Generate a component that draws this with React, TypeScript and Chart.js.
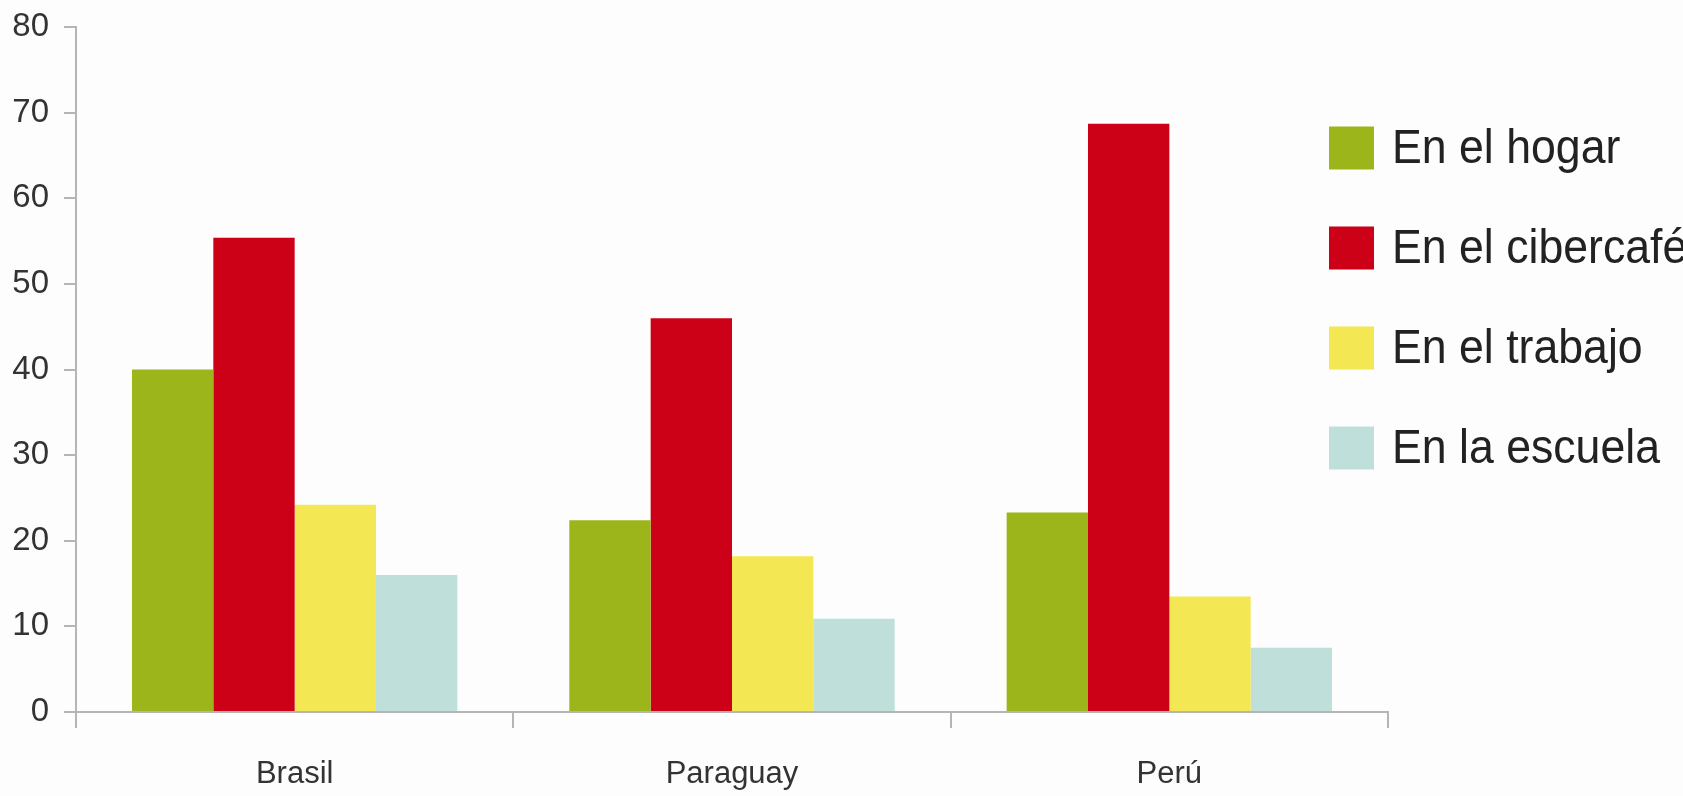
import React, { useEffect, useRef } from "react";
import { Chart, registerables } from "chart.js";

Chart.register(...registerables);

const categories = ["Brasil", "Paraguay", "Perú"];
const seriesNames = ["En el hogar", "En el cibercafé", "En el trabajo", "En la escuela"];
const hogar = [40.0, 22.4, 23.3];
const cibercafe = [55.4, 46.0, 68.7];
const trabajo = [24.2, 18.2, 13.5];
const escuela = [16.0, 10.9, 7.5];
const colors = ["#9CB51A", "#CC0016", "#F3E753", "#BEDFDA"];

const FONT = "'Liberation Sans', Arial, sans-serif";

const bgPlugin = {
  id: "bg",
  beforeDraw(chart: any) {
    const ctx = chart.ctx;
    ctx.save();
    ctx.fillStyle = "#fdfdfd";
    ctx.fillRect(0, 0, chart.width, chart.height);
    ctx.restore();
  },
};

const legendPlugin = {
  id: "customLegend",
  afterDraw(chart: any) {
    const ctx = chart.ctx;
    ctx.save();
    const boxX = 1329;
    const boxW = 45;
    const boxH = 43;
    const firstCenter = 148;
    const step = 100;
    ctx.textBaseline = "middle";
    ctx.textAlign = "left";
    chart.data.datasets.forEach((ds: any, i: number) => {
      const cy = firstCenter + i * step;
      ctx.fillStyle = ds.backgroundColor;
      ctx.fillRect(boxX, cy - boxH / 2, boxW, boxH);
      ctx.save();
      ctx.translate(1392, cy + 2);
      ctx.scale(0.93, 1);
      ctx.font = `48px ${FONT}`;
      ctx.fillStyle = "#222";
      ctx.fillText(ds.label, 0, 0);
      ctx.restore();
    });
    ctx.restore();
  },
};

export default function App() {
  const ref = useRef<HTMLCanvasElement | null>(null);
  useEffect(() => {
    document.body.style.margin = "0";
    const values = [hogar, cibercafe, trabajo, escuela];
    const chart = new Chart(ref.current as HTMLCanvasElement, {
      type: "bar",
      data: {
        labels: categories,
        datasets: seriesNames.map((name, i) => ({
          label: name,
          data: values[i],
          backgroundColor: colors[i],
          borderWidth: 0,
          categoryPercentage: 0.744,
          barPercentage: 1.0,
        })),
      },
      options: {
        responsive: false,
        animation: false,
        devicePixelRatio: 1,
        layout: { padding: { left: 0, right: 295, top: 27, bottom: 0 } },
        plugins: {
          legend: { display: false },
          tooltip: { enabled: false },
        },
        scales: {
          x: {
            afterFit(scale: any) {
              scale.height = 84;
            },
            grid: {
              offset: true,
              drawOnChartArea: false,
              drawTicks: true,
              tickLength: 16,
              color: "#b5b5b5",
              lineWidth: 2,
            },
            border: { display: true, color: "#b5b5b5", width: 2 },
            ticks: {
              color: "#333",
              font: { family: FONT, size: 31 },
              padding: 28,
            },
          },
          y: {
            min: 0,
            max: 80,
            afterFit(scale: any) {
              scale.width = 76;
              scale.paddingTop = 0;
              scale.paddingBottom = 0;
            },
            grid: {
              drawOnChartArea: false,
              drawTicks: true,
              tickLength: 12,
              color: "#b5b5b5",
              lineWidth: 2,
            },
            border: { display: true, color: "#b5b5b5", width: 2 },
            ticks: {
              stepSize: 10,
              color: "#333",
              font: { family: FONT, size: 33 },
              padding: 15,
            },
          },
        },
      },
      plugins: [bgPlugin, legendPlugin],
    });
    return () => chart.destroy();
  }, []);
  return <canvas ref={ref} width={1683} height={796} style={{ display: "block" }} />;
}
